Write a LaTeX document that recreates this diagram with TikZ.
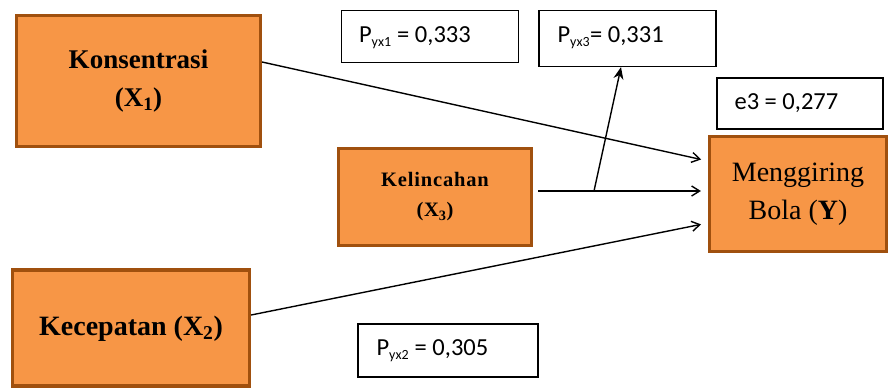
\documentclass[tikz,border=0pt]{standalone}
\usepackage{fontspec}
\setmainfont{Liberation Serif}
\newfontfamily\calib{Carlito}
\usetikzlibrary{arrows.meta}
\definecolor{boxfill}{HTML}{F79646}
\definecolor{boxedge}{HTML}{A0500E}
\tikzset{
  varbox/.style={draw=boxedge, fill=boxfill, line width=3.2pt, align=center, inner sep=0pt},
  coefbox/.style={draw=black, line width=1.3pt, fill=white, minimum height=50pt},
  coeftext/.style={anchor=west, inner sep=0pt, font=\calib\fontsize{24.5}{28}\selectfont},
  arr/.style={line width=1.4pt, -{Straight Barb[length=8pt,width=10pt,line width=1.4pt]}},
  arrup/.style={line width=1.4pt, -{Stealth[length=12pt,width=10pt]}},
}
\newcommand{\sbx}[1]{\textsubscript{\calib\fontsize{14}{14}\selectfont #1}}
\begin{document}
\begin{tikzpicture}[x=1pt,y=-1pt]
\useasboundingbox (0,0) rectangle (890,389);
% variable boxes
\node[varbox, minimum width=244pt, minimum height=131pt, font=\bfseries\fontsize{27}{38}\selectfont]
  (kons) at (138.5,81) {Konsentrasi\\(X\textsubscript{1})};
\node[varbox, minimum width=237pt, minimum height=116pt, font=\bfseries\fontsize{28}{32}\selectfont,
  text depth=0pt, text height=14pt]
  (kec) at (131,328) {Kecepatan (X\textsubscript{2})};
\node[varbox, minimum width=193pt, minimum height=97pt, font=\bfseries\fontsize{20.5}{30}\selectfont]
  (kel) at (435,197) {\addfontfeature{LetterSpace=4}Kelincahan\\\addfontfeature{LetterSpace=4}(X\textsubscript{3})};
\node[varbox, minimum width=177pt, minimum height=115pt, font=\fontsize{28}{38}\selectfont]
  (menggiring) at (798,194) {Menggiring\\Bola (\textbf{Y})};
% coefficient boxes
\node[coefbox, minimum width=177pt, minimum height=52pt] (p1) at (430,36.5) {};
\node[coeftext] (p1t) at ([xshift=18pt,yshift=-1pt]p1.west) {P\sbx{yx1} = 0,333};
\node[coefbox, minimum width=177pt, minimum height=56pt] (p3) at (627.5,38.5) {};
\node[coeftext] (p3t) at ([xshift=19pt,yshift=1pt]p3.west) {P\sbx{yx3}= 0,331};
\node[coefbox, minimum width=166pt, minimum height=51pt] (e3) at (800,103.5) {};
\node[coeftext] (e3t) at ([xshift=18pt]e3.west) {e3 = 0,277};
\node[coefbox, minimum width=180pt, minimum height=53pt] (p2) at (448,350.5) {};
\node[coeftext] (p2t) at ([xshift=19pt]p2.west) {P\sbx{yx2} = 0,305};
% connectors
\coordinate (branch) at (594,191);
\draw[arr, shorten >=7pt] (kons.north east |- 0,62) -- (menggiring.west |- 0,161);
\draw[arr, shorten >=7pt] ([xshift=5pt]kel.east |- 0,191) -- (menggiring.west |- 0,191);
\draw[arrup] (branch) -- (p3.south -| 621,0);
\draw[arr, shorten >=7pt] (kec.north east |- 0,315) -- (menggiring.west |- 0,223);
\end{tikzpicture}
\end{document}
